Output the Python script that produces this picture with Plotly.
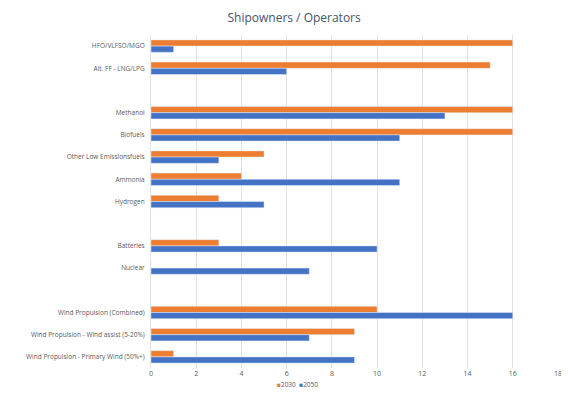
import plotly.graph_objects as go

# categories top to bottom; blank rows are spacers in the original chart
categories = [
    "HFO/VLFSO/MGO",
    "Alt. FF - LNG/LPG",
    " ",
    "Methanol",
    "Biofuels",
    "Other Low Emissionsfuels",
    "Ammonia",
    "Hydrogen",
    "  ",
    "Batteries",
    "Nuclear",
    "   ",
    "Wind Propulsion (Combined)",
    "Wind Propulsion - Wind assist (5-20%)",
    "Wind Propulsion - Primary Wind (50%+)",
]
values_2030 = [16, 15, None, 16, 16, 5, 4, 3, None, 3, 0, None, 10, 9, 1]
values_2050 = [1, 6, None, 13, 11, 3, 11, 5, None, 10, 7, None, 16, 7, 9]
x_ticks = [0, 2, 4, 6, 8, 10, 12, 14, 16, 18]
series_names = ["2030", "2050"]

ORANGE = "#ED7D31"
BLUE = "#4472C4"

fig = go.Figure()
fig.add_trace(go.Bar(
    y=categories, x=values_2030, name=series_names[0], orientation="h",
    marker=dict(color=ORANGE),
))
fig.add_trace(go.Bar(
    y=categories, x=values_2050, name=series_names[1], orientation="h",
    marker=dict(color=BLUE),
))

# compact legend like the excel original (plotly's bar legend keys are too wide)
legend_text = "  ".join(
    f'<span style="color:{c}">■</span>{n}'
    for n, c in zip(series_names, [ORANGE, BLUE])
)
fig.add_annotation(
    text=legend_text, xref="paper", yref="paper",
    x=0.36, y=-0.05, xanchor="center", yanchor="middle",
    showarrow=False, font=dict(size=6.5, color="#595959"),
)

# page body adds an 8px margin, so keep the figure small enough to avoid scrollbars
fig.update_layout(
    width=561,
    height=380,
    paper_bgcolor="white",
    plot_bgcolor="white",
    barmode="group",
    bargap=0.44,
    bargroupgap=0,
    showlegend=False,
    margin=dict(l=143, r=11, t=27, b=20, autoexpand=False),
    font=dict(family="Open Sans", color="#595959", size=7),
    title=dict(
        text="Shipowners / Operators",
        x=0.51, xanchor="center", y=0.974, yanchor="middle",
        font=dict(family="Open Sans", size=12, color="#44546A"),
    ),
    xaxis=dict(
        range=[0, 18],
        tickvals=x_ticks,
        showgrid=True,
        gridcolor="#E3E3E3",
        gridwidth=1,
        zeroline=False,
        showline=False,
        ticks="",
        automargin=False,
        tickfont=dict(size=7, color="#595959"),
    ),
    yaxis=dict(
        autorange="reversed",
        showgrid=False,
        showline=True,
        linecolor="#E3E3E3",
        ticks="",
        automargin=False,
        ticklabelstandoff=4,
        tickfont=dict(size=6.5, color="#595959"),
    ),
)

fig.write_html("out.html")
